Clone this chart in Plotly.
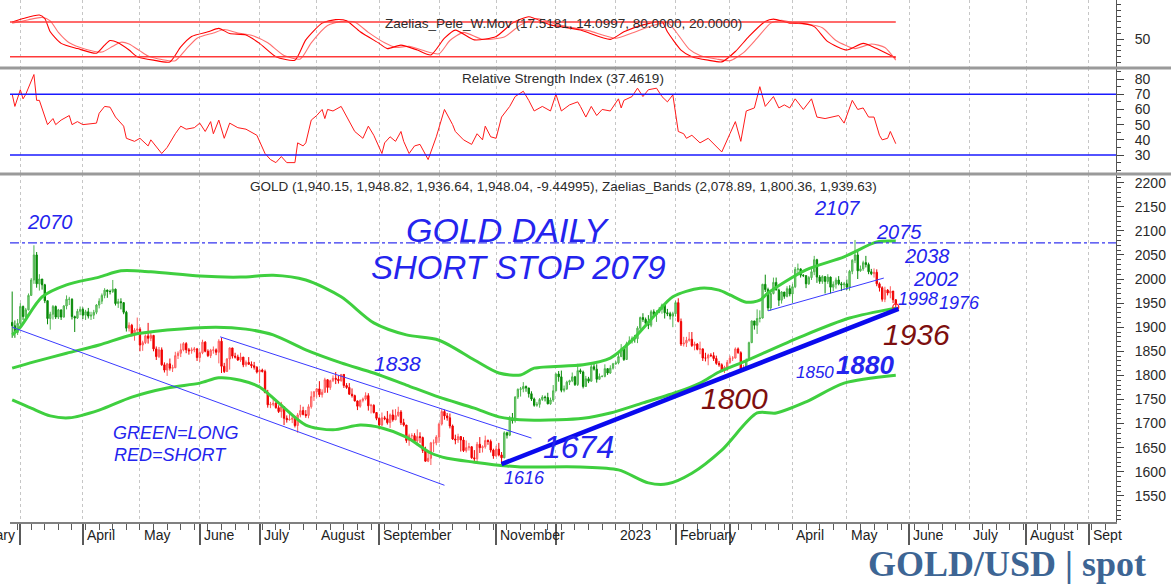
import pandas as pd
import plotly.graph_objects as go

# ---------------- DATA ----------------
first_open = 1910
closes = [
    1903, 1889, 1908,  # Feb 2022
    1943, 1922, 1936, 1966, 1998, 2050, 1990, 2000, 1988, 1955, 1918, 1927, 1943, 1921, 1936, 1921, 1944, 1958, 1958, 1922, 1919, 1933, 1937,  # Mar
    1925, 1932, 1923, 1925, 1931, 1946, 1954, 1966, 1977, 1974, 1974, 1979, 1949, 1953, 1951, 1931, 1898, 1904, 1886, 1894, 1896,  # Apr
    1863, 1868, 1882, 1877, 1883, 1855, 1839, 1853, 1822, 1811, 1824, 1815, 1816, 1841, 1846, 1853, 1866, 1853, 1851, 1853, 1855, 1837,  # May
    1847, 1869, 1850, 1841, 1852, 1853, 1848, 1871, 1819, 1808, 1834, 1857, 1840, 1838, 1832, 1838, 1822, 1827, 1823, 1820, 1817, 1807,  # Jun
    1811, 1808, 1764, 1739, 1740, 1742, 1733, 1725, 1735, 1711, 1708, 1709, 1711, 1696, 1718, 1727, 1719, 1717, 1735, 1756, 1766,  # Jul
    1772, 1760, 1765, 1791, 1775, 1789, 1794, 1792, 1789, 1802, 1779, 1775, 1761, 1758, 1747, 1736, 1748, 1751, 1758, 1737, 1738, 1723, 1711,  # Aug
    1697, 1712, 1710, 1702, 1718, 1708, 1717, 1724, 1702, 1697, 1665, 1675, 1675, 1664, 1673, 1671, 1644, 1622, 1628, 1660, 1660, 1672,  # Sep
    1699, 1725, 1716, 1712, 1695, 1668, 1666, 1673, 1666, 1644, 1650, 1652, 1629, 1627, 1657, 1650, 1652, 1665, 1663, 1645, 1633,  # Oct
    1647, 1635, 1629, 1681, 1676, 1712, 1706, 1755, 1771, 1772, 1777, 1774, 1762, 1751, 1738, 1740, 1750, 1755, 1754, 1741, 1749, 1768,  # Nov
    1803, 1797, 1769, 1772, 1786, 1789, 1797, 1781, 1810, 1807, 1777, 1793, 1788, 1818, 1813, 1792, 1798, 1798, 1814, 1805, 1815, 1824,  # Dec
    1826, 1839, 1855, 1833, 1866, 1872, 1877, 1876, 1898, 1920, 1916, 1908, 1904, 1932, 1926, 1931, 1937, 1946, 1930, 1928, 1923, 1928,  # Jan 2023
    1951, 1912, 1865, 1867, 1873, 1875, 1862, 1865, 1854, 1855, 1836, 1836, 1842, 1841, 1835, 1825, 1822, 1811, 1817, 1827,  # Feb
    1836, 1836, 1855, 1847, 1813, 1814, 1831, 1868, 1913, 1904, 1918, 1919, 1989, 1978, 1940, 1970, 1993, 1977, 1956, 1973, 1964, 1980, 1969,  # Mar
    1984, 2020, 2021, 2008, 2007, 1990, 2003, 2015, 2040, 2004, 1995, 2005, 1995, 2004, 1983, 1989, 1998, 1990, 1988, 1990,  # Apr
    1983, 2016, 2039, 2050, 2017, 2021, 2034, 2030, 2015, 2011, 2014, 1990, 1982, 1958, 1977, 1971, 1975, 1957, 1948,  # May
]
highs = [
    1974, 1914, 1917,
    1950, 1945, 1940, 1970, 2002, 2070, 2056, 2010, 2000, 1990, 1955, 1932, 1946, 1945, 1938, 1936, 1946, 1966, 1963, 1960, 1924, 1938, 1943,
    1941, 1936, 1940, 1932, 1936, 1948, 1960, 1970, 1981, 1978, 1978, 1998, 1980, 1959, 1960, 1952, 1934, 1910, 1907, 1898, 1920,
    1900, 1872, 1885, 1909, 1890, 1884, 1860, 1859, 1858, 1827, 1826, 1835, 1822, 1849, 1850, 1866, 1869, 1869, 1857, 1858, 1859, 1857,
    1850, 1874, 1871, 1854, 1855, 1860, 1856, 1875, 1878, 1826, 1836, 1858, 1857, 1847, 1843, 1847, 1838, 1831, 1838, 1829, 1828, 1819,
    1813, 1814, 1812, 1770, 1745, 1752, 1745, 1738, 1745, 1736, 1717, 1724, 1716, 1714, 1722, 1739, 1735, 1728, 1740, 1767, 1767,
    1774, 1788, 1771, 1795, 1792, 1791, 1800, 1807, 1800, 1802, 1800, 1784, 1784, 1773, 1760, 1748, 1750, 1754, 1765, 1763, 1741, 1740, 1724,
    1713, 1723, 1716, 1726, 1721, 1729, 1730, 1735, 1728, 1710, 1697, 1679, 1680, 1680, 1688, 1682, 1673, 1652, 1640, 1662, 1667, 1676,
    1702, 1730, 1729, 1722, 1721, 1698, 1677, 1679, 1674, 1672, 1665, 1660, 1653, 1645, 1662, 1672, 1655, 1675, 1667, 1667, 1648,
    1654, 1660, 1641, 1684, 1683, 1716, 1722, 1757, 1773, 1776, 1786, 1779, 1774, 1767, 1754, 1745, 1753, 1759, 1758, 1764, 1754, 1780,
    1804, 1809, 1810, 1779, 1789, 1791, 1806, 1799, 1824, 1814, 1810, 1799, 1797, 1822, 1824, 1823, 1804, 1800, 1823, 1815, 1821, 1826,
    1830, 1851, 1865, 1860, 1870, 1881, 1881, 1884, 1902, 1922, 1929, 1920, 1925, 1936, 1937, 1935, 1942, 1949, 1948, 1938, 1932, 1932,
    1955, 1960, 1918, 1880, 1880, 1890, 1890, 1870, 1867, 1870, 1856, 1847, 1845, 1846, 1848, 1841, 1830, 1825, 1820, 1832,
    1841, 1840, 1858, 1858, 1850, 1822, 1835, 1870, 1914, 1913, 1937, 1935, 1990, 2009, 1982, 1975, 2003, 2003, 1980, 1975, 1973, 1985, 1987,
    1990, 2025, 2032, 2022, 2010, 2008, 2006, 2022, 2048, 2042, 2008, 2008, 2005, 2010, 2005, 1995, 2003, 2006, 1994, 1994,
    1999, 2019, 2041, 2081, 2062, 2028, 2038, 2048, 2034, 2021, 2022, 2020, 1993, 1985, 1984, 1979, 1985, 1974, 1958,
]
lows = [
    1878, 1878, 1884,
    1900, 1915, 1918, 1935, 1967, 1990, 1982, 1976, 1978, 1950, 1906, 1895, 1916, 1917, 1917, 1915, 1920, 1937, 1946, 1916, 1890, 1917, 1925,
    1917, 1915, 1918, 1915, 1917, 1927, 1939, 1948, 1960, 1961, 1968, 1971, 1945, 1940, 1937, 1927, 1891, 1891, 1881, 1872, 1885,
    1850, 1851, 1865, 1866, 1871, 1850, 1832, 1836, 1820, 1806, 1799, 1810, 1807, 1815, 1834, 1838, 1850, 1846, 1843, 1845, 1848, 1830,
    1828, 1844, 1848, 1838, 1836, 1845, 1842, 1825, 1805, 1805, 1807, 1812, 1835, 1835, 1830, 1828, 1817, 1818, 1822, 1815, 1812, 1804,
    1784, 1806, 1764, 1733, 1732, 1736, 1731, 1722, 1712, 1697, 1702, 1706, 1701, 1692, 1681, 1713, 1717, 1712, 1711, 1731, 1747,
    1754, 1755, 1754, 1764, 1764, 1770, 1786, 1782, 1783, 1787, 1774, 1772, 1760, 1754, 1746, 1728, 1733, 1744, 1748, 1727, 1721, 1721, 1707,
    1688, 1695, 1707, 1698, 1691, 1704, 1707, 1714, 1697, 1694, 1660, 1654, 1663, 1661, 1654, 1660, 1639, 1621, 1620, 1614, 1641, 1655,
    1660, 1696, 1708, 1706, 1690, 1666, 1657, 1660, 1642, 1641, 1640, 1644, 1627, 1622, 1618, 1639, 1640, 1648, 1656, 1640, 1627,
    1631, 1632, 1616, 1628, 1669, 1674, 1700, 1702, 1751, 1756, 1765, 1766, 1754, 1747, 1735, 1735, 1733, 1747, 1746, 1740, 1739, 1745,
    1767, 1787, 1765, 1765, 1770, 1780, 1786, 1778, 1778, 1803, 1773, 1776, 1784, 1787, 1810, 1785, 1791, 1796, 1796, 1801, 1803, 1812,
    1822, 1823, 1838, 1830, 1833, 1865, 1866, 1868, 1867, 1894, 1911, 1906, 1896, 1900, 1922, 1911, 1929, 1928, 1918, 1923, 1916, 1900,
    1922, 1910, 1861, 1860, 1859, 1870, 1859, 1852, 1852, 1844, 1830, 1829, 1821, 1838, 1830, 1822, 1818, 1808, 1805, 1809,
    1824, 1830, 1835, 1845, 1810, 1809, 1812, 1830, 1867, 1895, 1886, 1910, 1918, 1973, 1934, 1934, 1968, 1977, 1944, 1949, 1959, 1962, 1964,
    1950, 1981, 2010, 2003, 2004, 1981, 1988, 1998, 2008, 1992, 1990, 1990, 1970, 1990, 1970, 1975, 1980, 1987, 1975, 1978,
    1977, 1976, 2010, 2033, 2000, 2015, 2017, 2024, 2010, 2008, 2003, 1985, 1974, 1953, 1952, 1966, 1960, 1950, 1937,
]

# trading-day index where the long/short signal switches
signal_start = [0, 43, 181, 245, 270, 317]
signal_side = ["long", "short", "long", "short", "long", "short"]

# Zaelias bands (trading-day index, price)
band_upper = [(0, 1884), (3, 1900), (11, 1963), (20, 1988), (32, 2004), (40, 2017), (51, 2015), (69, 2006), (84, 2004),
              (96, 2008), (108, 1998), (121, 1963), (133, 1909), (145, 1884), (157, 1873), (170, 1832), (179, 1805),
              (187, 1801), (192, 1815), (210, 1822), (220, 1836), (228, 1873), (237, 1929), (243, 1963), (253, 1981),
              (260, 1977), (264, 1967), (270, 1952), (275, 1956), (278, 1971), (292, 2019), (306, 2046), (318, 2077),
              (325, 2078.89)]
band_mid = [(0, 1815), (8, 1828), (20, 1846), (32, 1863), (44, 1884), (57, 1894), (75, 1900), (86, 1896), (96, 1884),
            (108, 1853), (121, 1826), (133, 1805), (145, 1780), (157, 1755), (170, 1732), (179, 1714), (192, 1707),
            (210, 1711), (220, 1722), (232, 1743), (245, 1766), (253, 1784), (260, 1807), (269, 1828), (290, 1880),
            (308, 1919), (325, 1939.63)]
band_lower = [(0, 1749), (7, 1732), (14, 1716), (21, 1712), (32, 1728), (44, 1755), (57, 1774), (69, 1784), (76, 1795),
              (84, 1790), (91, 1776), (98, 1743), (108, 1697), (118, 1687), (128, 1697), (136, 1691), (145, 1672),
              (154, 1639), (160, 1628), (170, 1620), (182, 1612), (187, 1610), (209, 1610), (223, 1604), (234, 1577),
              (241, 1575), (250, 1597), (261, 1645), (274, 1722), (281, 1722), (292, 1745), (306, 1784), (325, 1800.36)]

# Relative Strength Index (trading-day index, value)
rsi_points = [(0, 70), (1, 62), (3, 73), (4, 67), (5, 70), (8, 83), (9, 66), (10, 66), (13, 50), (15, 54), (16, 50), (18, 53),
              (21, 56), (22, 50), (24, 52), (26, 50), (31, 51), (32, 57.5), (34, 62), (36, 61.5), (38, 55), (41, 49), (42, 41),
              (45, 39), (47, 41), (50, 36), (51, 40), (55, 31), (57, 35), (60, 44), (62, 49), (64, 47), (67, 48), (69, 51),
              (71, 45.5), (73, 52), (74, 44), (76, 53), (78, 41), (80, 51), (83, 48), (86, 47), (90, 43), (93, 31), (95, 27),
              (97, 25), (99, 29), (101, 25), (104, 25), (105, 38), (107, 36), (108, 38), (110, 53), (112, 56), (114, 60),
              (115, 54), (116, 60), (118, 59), (121, 62), (124, 52), (126, 45.5), (129, 41), (131, 49), (133, 43), (136, 31),
              (137, 38), (139, 42), (141, 39), (143, 45.5), (144, 39), (146, 31), (148, 36), (150, 37), (153, 27), (156, 42),
              (159, 60), (162, 50), (163, 45.5), (166, 40), (169, 37), (171, 44), (173, 40), (174, 49), (176, 42), (178, 41),
              (180, 55), (183, 62), (185, 68.5), (188, 72), (190, 66), (192, 59), (195, 62), (198, 59), (200, 70), (202, 59),
              (205, 63), (208, 65), (209, 62), (211, 55), (213, 62), (215, 56), (217, 60), (220, 59), (223, 67), (224, 61),
              (225, 66), (228, 68.5), (230, 74), (232, 68.5), (234, 73), (237, 74), (239, 68.5), (241, 65), (243, 69.6),
              (245, 45.5), (247, 44), (248, 41), (250, 43), (253, 38), (256, 41), (259, 36), (261, 32), (264, 44), (266, 52),
              (268, 39), (270, 59), (273, 61), (275, 75), (277, 62), (280, 68.5), (282, 61), (284, 63), (286, 61), (288, 67),
              (291, 60), (294, 67), (296, 55), (299, 54), (304, 56), (306, 51), (309, 66), (311, 60), (313, 61), (315, 55),
              (317, 55), (319, 43), (320, 40), (322, 41), (323, 45.5), (325, 37.46)]

# Zaelias_Pele_W.Mov oscillator: fast and slow lines (trading-day index, value)
osc_fast = [(0, 80), (4, 86), (10, 92), (12, 86), (14, 63), (18, 43), (24, 34), (31, 26), (34, 40), (36, 48), (39, 44),
            (43, 31.5), (46, 20), (52, 14), (58, 11), (62, 37), (66, 55), (72, 63), (76, 69), (80, 60), (86, 57.5), (91, 43),
            (97, 20), (104, 14), (108, 49), (114, 78), (119, 84), (123, 82), (128, 63), (135, 43), (138, 34), (143, 40),
            (149, 31.5), (154, 23), (159, 52), (163, 66), (170, 49), (178, 55), (184, 78), (190, 89), (198, 75), (209, 66),
            (220, 50), (225, 63), (232, 75), (239, 80.5), (241, 63), (246, 31.5), (250, 20), (256, 14), (261, 11), (266, 29),
            (271, 55), (277, 81), (280, 85), (286, 78), (290, 78), (295, 72), (300, 46), (307, 31.5), (313, 43), (318, 34),
            (325, 17.52)]
osc_slow = [(0, 78), (6, 84), (11, 88), (14, 82), (17, 62), (21, 44), (27, 33), (33, 28), (37, 38), (40, 45), (43, 42),
            (47, 30), (50, 21), (55, 15), (60, 13), (64, 33), (68, 52), (74, 61), (78, 67), (83, 61), (88, 57), (94, 44),
            (100, 22), (106, 16), (110, 44), (116, 74), (121, 81), (126, 80), (131, 62), (137, 44), (141, 36), (146, 38),
            (151, 31), (157, 25), (161, 48), (166, 62), (173, 50), (181, 54), (187, 75), (193, 86), (201, 75), (212, 65),
            (222, 52), (228, 61), (235, 73), (241, 79), (244, 64), (249, 33), (253, 22), (259, 16), (264, 13), (269, 27),
            (274, 52), (279, 78), (283, 83), (288, 78), (293, 76), (298, 70), (303, 48), (310, 34), (316, 42), (321, 36),
            (325, 14.10)]

# hand-drawn trend lines: (index0, price0, index1, price1)
trend_thick = [(180, 1616, 326, 1938)]
trend_thin = [(0, 1900, 159, 1572), (76.5, 1880, 191, 1670), (278, 1934, 320.6, 2002)]
stop_level = 2075

month_label_text = ["", "April", "May", "June", "July", "August", "September", "", "November", "",
                    "2023", "February", "", "April", "May", "June", "July", "August", "Sept"]

# ---------------- BUILD ----------------
dates = pd.bdate_range("2022-02-24", "2023-09-29")
n = len(closes)
opens = [first_open] + closes[:-1]
month_starts = [i for i in range(1, len(dates)) if dates[i].month != dates[i - 1].month]
weeks = [i for i, d in enumerate(dates) if d.weekday() == 0]

side = []
for i in range(n):
    k = max(j for j, s in enumerate(signal_start) if s <= i)
    side.append(signal_side[k])

BLUE = "#2424ee"
DARKRED = "#7d0f0f"
FONT = "Liberation Sans, Arial, sans-serif"

fig = go.Figure()


def candle_trace(sel, inc_line, inc_fill, dec_line, dec_fill):
    ii = [i for i in range(n) if side[i] == sel]
    return go.Candlestick(
        x=ii, open=[opens[i] for i in ii], high=[highs[i] for i in ii],
        low=[lows[i] for i in ii], close=[closes[i] for i in ii],
        increasing=dict(line=dict(color=inc_line, width=1), fillcolor=inc_fill),
        decreasing=dict(line=dict(color=dec_line, width=1), fillcolor=dec_fill),
        whiskerwidth=0, xaxis="x", yaxis="y", showlegend=False, hoverinfo="skip")


for pts in (band_upper, band_mid, band_lower):
    bx, by = zip(*pts)
    fig.add_trace(go.Scatter(x=bx, y=by, mode="lines", line=dict(color="#3fcf3f", width=3, shape="spline", smoothing=0.8),
                             xaxis="x", yaxis="y", showlegend=False, hoverinfo="skip"))

fig.add_trace(candle_trace("long", "#4fb54f", "#86d386", "#078a07", "#078a07"))
fig.add_trace(candle_trace("short", "#ff5c5c", "#ff9a9a", "#f00000", "#f00000"))

fig.add_trace(go.Scatter(x=[n - 1], y=[closes[-1] - 6], mode="markers",
                         marker=dict(symbol="circle-open", size=6, color="#ff2020", line=dict(width=1.2)),
                         xaxis="x", yaxis="y", showlegend=False, hoverinfo="skip"))

rx, ry = zip(*rsi_points)
fig.add_trace(go.Scatter(x=rx, y=ry, mode="lines", line=dict(color="#ff1a1a", width=1),
                         xaxis="x2", yaxis="y2", showlegend=False, hoverinfo="skip"))
for pts, col in ((osc_slow, "#ff7070"), (osc_fast, "#ff0000")):
    ox, oy = zip(*pts)
    fig.add_trace(go.Scatter(x=ox, y=oy, mode="lines", line=dict(color=col, width=1.1, shape="spline", smoothing=0.6),
                             xaxis="x3", yaxis="y3", showlegend=False, hoverinfo="skip"))

# ---------------- LAYOUT ----------------
PLOT_L, PLOT_R, PLOT_B = 10, 1116, 522
PW, PH = PLOT_R - PLOT_L, PLOT_B
d1 = (PLOT_B - 174) / PH
d2 = (PLOT_B - 68) / PH


def px(x):
    return (x - PLOT_L) / PW


def py(y):
    return (PLOT_B - y) / PH


xrange_ = [-0.8, 406.0]
grid = dict(showgrid=True, gridcolor="#c6c6c6", gridwidth=1, griddash="3px,3px")
fig.update_layout(
    width=1171, height=585, margin=dict(l=PLOT_L, r=1171 - PLOT_R, t=0, b=585 - PLOT_B),
    paper_bgcolor="white", plot_bgcolor="white", showlegend=False,
    font=dict(family=FONT, size=14, color="#222"),
    xaxis=dict(domain=[0, 1], range=xrange_, anchor="y", tickmode="array", tickvals=month_starts,
               ticktext=[""] * len(month_starts), ticks="outside", ticklen=21, tickwidth=2, tickcolor="#5a5a5a",
               showline=True, linecolor="#808080", linewidth=2, zeroline=False, rangeslider=dict(visible=False),
               minor=dict(tickmode="array", tickvals=weeks, ticks="outside", ticklen=6, tickwidth=1,
                          tickcolor="#5a5a5a", showgrid=False), **grid),
    xaxis2=dict(domain=[0, 1], range=xrange_, anchor="y2", matches="x", tickmode="array", tickvals=month_starts,
                showticklabels=False, ticks="", zeroline=False, **grid),
    xaxis3=dict(domain=[0, 1], range=xrange_, anchor="y3", matches="x", tickmode="array", tickvals=month_starts,
                showticklabels=False, ticks="", zeroline=False, **grid),
    yaxis=dict(domain=[0, d1], range=[1495.8, 2217.9], side="right", anchor="x", tickmode="array",
               tickvals=list(range(1550, 2201, 50)), ticks="outside", ticklen=7, tickcolor="#444",
               showgrid=False, showline=True, linecolor="#555", linewidth=1, zeroline=False,
               ticklabelstandoff=8, tickfont=dict(size=14, color="#2a2a2a"),
               minor=dict(tickmode="linear", tick0=0, dtick=10, ticks="outside", ticklen=4, tickcolor="#444")),
    yaxis2=dict(domain=[d1, d2], range=[17.5, 87.3], side="right", anchor="x2", tickmode="array",
                tickvals=[30, 40, 50, 60, 70, 80], ticks="outside", ticklen=7, tickcolor="#444",
                showgrid=False, showline=True, linecolor="#555", linewidth=1, zeroline=False,
                ticklabelstandoff=8, tickfont=dict(size=14, color="#2a2a2a"),
                minor=dict(tickmode="linear", tick0=0, dtick=5, ticks="outside", ticklen=4, tickcolor="#444")),
    yaxis3=dict(domain=[d2, 1], range=[0.45, 118], side="right", anchor="x3", tickmode="array",
                tickvals=[50], ticks="outside", ticklen=7, tickcolor="#444",
                showgrid=False, showline=True, linecolor="#555", linewidth=1, zeroline=False,
                ticklabelstandoff=8, tickfont=dict(size=14, color="#2a2a2a"),
                minor=dict(tickmode="linear", tick0=0, dtick=10, ticks="outside", ticklen=4, tickcolor="#444")),
)

shapes = []
for yy in (d1, d2):
    shapes.append(dict(type="line", xref="paper", yref="paper", x0=px(0), x1=px(1171), y0=yy, y1=yy,
                       line=dict(color="#9a9a9a", width=3), layer="above"))
shapes.append(dict(type="line", xref="paper", yref="y", x0=0, x1=1, y0=stop_level, y1=stop_level,
                   line=dict(color="#3434f0", width=1.2, dash="dashdot")))
for lv in (70, 30):
    shapes.append(dict(type="line", xref="paper", yref="y2", x0=0, x1=1, y0=lv, y1=lv,
                       line=dict(color="#1a1aff", width=1.5)))
for lv in (80, 20):
    shapes.append(dict(type="line", xref="x3", yref="y3", x0=xrange_[0], x1=n - 1, y0=lv, y1=lv,
                       line=dict(color="#ff3a3a", width=1.6)))
for x0, y0, x1, y1 in trend_thin:
    shapes.append(dict(type="line", xref="x", yref="y", x0=x0, y0=y0, x1=x1, y1=y1,
                       line=dict(color="#3a3aff", width=1)))
for x0, y0, x1, y1 in trend_thick:
    shapes.append(dict(type="line", xref="x", yref="y", x0=x0, y0=y0, x1=x1, y1=y1,
                       line=dict(color="#0a0aee", width=4.5)))
fig.update_layout(shapes=shapes)

ann = []
# panel headers
ann.append(dict(text="Zaelias_Pele_W.Mov (17.5181, 14.0997, 80.0000, 20.0000)", x=0.5, y=py(23)))
ann.append(dict(text="Relative Strength Index (37.4619)", x=0.5, y=py(79)))
ann.append(dict(text="GOLD (1,940.15, 1,948.82, 1,936.64, 1,948.04, -9.44995), Zaelias_Bands (2,078.89, 1,800.36, 1,939.63)",
                x=0.5, y=py(186)))
for a in ann:
    a.update(xref="paper", yref="paper", showarrow=False, xanchor="center", yanchor="middle",
             font=dict(family=FONT, size=13.5, color="#2b2b2b"))

hand = [
    ("2070", 50, 222, 20, BLUE, "normal"),
    ("GOLD DAILY", 508, 230, 34, BLUE, "normal"),
    ("SHORT STOP 2079", 518, 267, 33, BLUE, "normal"),
    ("2107", 837, 208, 20, BLUE, "normal"),
    ("2075", 899, 232, 20, BLUE, "normal"),
    ("2038", 927, 256, 20, BLUE, "normal"),
    ("2002", 936, 279, 20, BLUE, "normal"),
    ("1998", 918, 299, 18, BLUE, "normal"),
    ("1976", 959, 303, 18, BLUE, "normal"),
    ("1936", 916, 334, 30, DARKRED, "normal"),
    ("1850", 815, 372, 17, BLUE, "normal"),
    ("1880", 865, 365, 26, BLUE, "bold"),
    ("1800", 734, 398, 30, DARKRED, "normal"),
    ("1674", 578, 447, 32, BLUE, "normal"),
    ("1616", 524, 478, 18, BLUE, "normal"),
    ("1838", 398, 363, 21, BLUE, "normal"),
    ("GREEN=LONG", 176, 433, 18, BLUE, "normal"),
    ("RED=SHORT", 170, 455, 18, BLUE, "normal"),
]
for t, x, y, s, c, w in hand:
    ann.append(dict(text=t, xref="paper", yref="paper", x=px(x), y=py(y), showarrow=False,
                    xanchor="center", yanchor="middle",
                    font=dict(family=FONT, size=s, color=c, style="italic", weight=w)))

# month labels (left-aligned after each month tick)
for i, t in zip(month_starts, month_label_text):
    if t:
        ann.append(dict(text=t, xref="x", yref="paper", x=i, y=py(535), xshift=2, showarrow=False,
                        xanchor="left", yanchor="middle", font=dict(family=FONT, size=14, color="#222")))
# first label, cut by the left edge as in the reference
ann.append(dict(text="February", xref="paper", yref="paper", x=px(17), y=py(535), showarrow=False,
                xanchor="right", yanchor="middle", font=dict(family=FONT, size=14, color="#222")))

ann.append(dict(text="GOLD/USD | spot", xref="paper", yref="paper", x=px(1007), y=py(564), showarrow=False,
                xanchor="center", yanchor="middle",
                font=dict(family="Liberation Serif, DejaVu Serif, serif", size=36, color="#3d6594", weight="bold")))
fig.update_layout(annotations=ann)

fig.write_html("out.html")
